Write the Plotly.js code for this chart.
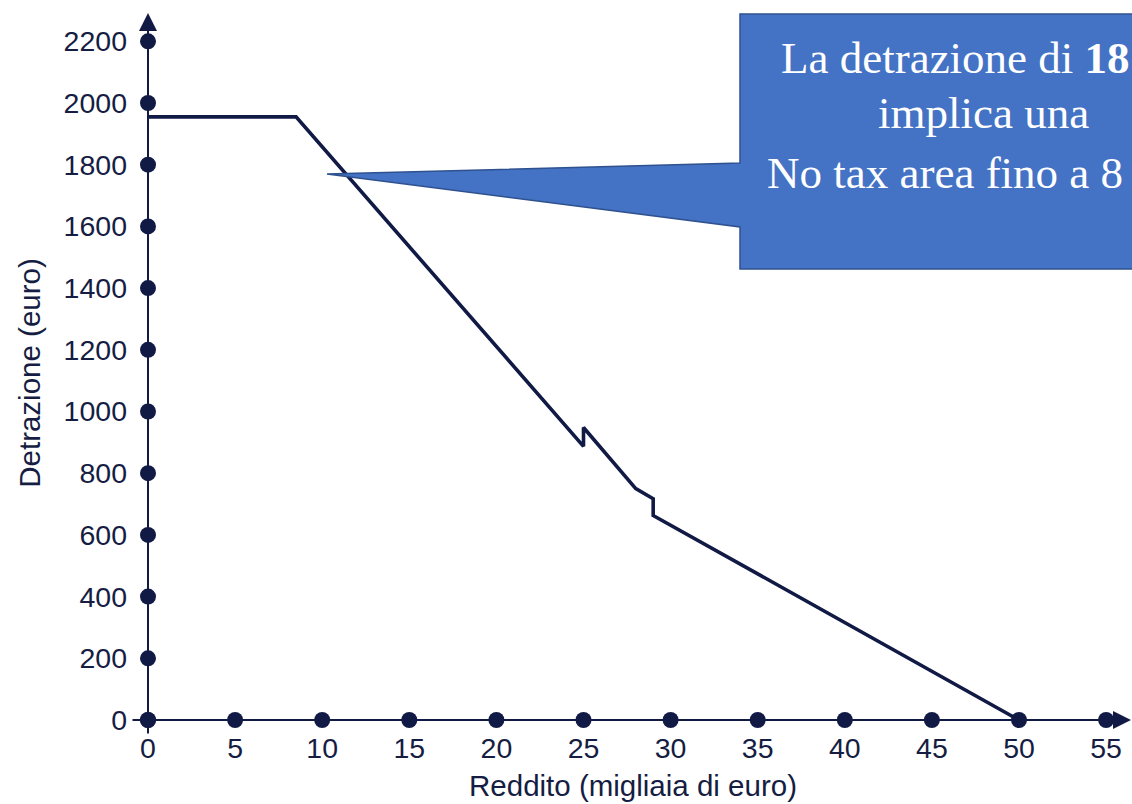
<!DOCTYPE html>
<html>
<head>
<meta charset="utf-8">
<script src="https://cdn.plot.ly/plotly-3.0.1.min.js"></script>
<style>
  html, body { margin: 0; padding: 0; background: #ffffff; overflow: hidden; }
  #chart { width: 1132px; height: 804px; }
</style>
</head>
<body>
<div id="chart"></div>
<script>
// ---- data ----
const incomeK   = [0, 8.5, 25, 25, 28, 29, 29, 50];          // Reddito (migliaia di euro)
const deduction = [1955, 1955, 887, 948, 750, 717, 663, 0];  // Detrazione (euro)
const xTicks = [0, 5, 10, 15, 20, 25, 30, 35, 40, 45, 50, 55];
const xTickLabels = ['0', '5', '10', '15', '20', '25', '30', '35', '40', '45', '50', '55'];
const yTicks = [0, 200, 400, 600, 800, 1000, 1200, 1400, 1600, 1800, 2000, 2200];
const yTickLabels = ['0', '200', '400', '600', '800', '1000', '1200', '1400', '1600', '1800', '2000', '2200'];
const xTitle = 'Reddito (migliaia di euro)';
const yTitle = 'Detrazione (euro)';
const calloutLines = ['La detrazione di <b>18</b>', 'implica una', 'No tax area fino a 8'];

// ---- style ----
const NAVY = '#111a45';
const TEXT = '#151d42';
const SANS = 'Liberation Sans, Arial, sans-serif';
const SERIF = 'Liberation Serif, Times New Roman, serif';

const M = { l: 134, r: 0, t: 18, b: 76 };
const W = 1132, H = 804;
const pw = W - M.l - M.r, ph = H - M.t - M.b;
const px2paperX = px => (px - M.l) / pw;
const py2paperY = py => (H - M.b - py) / ph;

const traces = [
  {
    x: incomeK, y: deduction, type: 'scatter', mode: 'lines',
    line: { color: NAVY, width: 3.6 }, hoverinfo: 'skip', cliponaxis: false
  },
  {
    x: xTicks, y: xTicks.map(() => 0), type: 'scatter', mode: 'markers',
    marker: { color: NAVY, size: 16 }, hoverinfo: 'skip', cliponaxis: false
  },
  {
    x: yTicks.map(() => 0), y: yTicks, type: 'scatter', mode: 'markers',
    marker: { color: NAVY, size: 16 }, hoverinfo: 'skip', cliponaxis: false
  }
];

// callout box (pixel outline converted to paper coords)
const callPts = [[740, 14], [1150, 14], [1150, 269], [740, 269], [740, 227], [327, 174], [740, 163]];
const calloutPath = 'M ' + callPts.map(p => px2paperX(p[0]).toFixed(5) + ',' + py2paperY(p[1]).toFixed(5)).join(' L ') + ' Z';

const linePos = [[779, 57.5], [875.5, 112.5], [765, 172.5]];

const annotations = [
  { // x axis line with arrow
    x: px2paperX(1132), y: py2paperY(720), xref: 'paper', yref: 'paper',
    ax: -(1132 - 131), ay: 0, axref: 'pixel', ayref: 'pixel',
    text: '', showarrow: true, arrowhead: 2, arrowsize: 1.8, arrowwidth: 2, arrowcolor: NAVY
  },
  { // y axis line with arrow
    x: px2paperX(148), y: py2paperY(13), xref: 'paper', yref: 'paper',
    ax: 0, ay: 735 - 13, axref: 'pixel', ayref: 'pixel',
    text: '', showarrow: true, arrowhead: 2, arrowsize: 1.8, arrowwidth: 2, arrowcolor: NAVY
  }
].concat(calloutLines.map((t, i) => ({
  text: t, xref: 'paper', yref: 'paper',
  x: px2paperX(linePos[i][0]), y: py2paperY(linePos[i][1]),
  xanchor: 'left', yanchor: 'middle', showarrow: false, align: 'left',
  font: { family: SERIF, size: 45, color: '#ffffff' }
})));

const layout = {
  width: W, height: H,
  margin: M,
  paper_bgcolor: '#ffffff', plot_bgcolor: '#ffffff',
  showlegend: false,
  xaxis: {
    range: [-0.8037, 56.487],
    tickmode: 'array', tickvals: xTicks, ticktext: xTickLabels,
    showgrid: false, zeroline: false, showline: false, ticks: '',
    tickfont: { family: SANS, size: 28.5, color: TEXT },
    title: { text: xTitle, font: { family: SANS, size: 29.5, color: TEXT }, standoff: 12 },
    fixedrange: true, automargin: false
  },
  yaxis: {
    range: [-25.93, 2275.5],
    tickmode: 'array', tickvals: yTicks, ticktext: yTickLabels,
    showgrid: false, zeroline: false, showline: false, ticks: '',
    ticklabelstandoff: 6,
    tickfont: { family: SANS, size: 28.5, color: TEXT },
    title: { text: yTitle, font: { family: SANS, size: 29.5, color: TEXT }, standoff: 14 },
    fixedrange: true, automargin: false
  },
  shapes: [
    {
      type: 'path', xref: 'paper', yref: 'paper', path: calloutPath,
      fillcolor: '#4472c4', line: { color: '#2f528f', width: 1.5 }, layer: 'above'
    }
  ],
  annotations: annotations
};

Plotly.newPlot('chart', traces, layout, { displayModeBar: false, staticPlot: true });
</script>
</body>
</html>
